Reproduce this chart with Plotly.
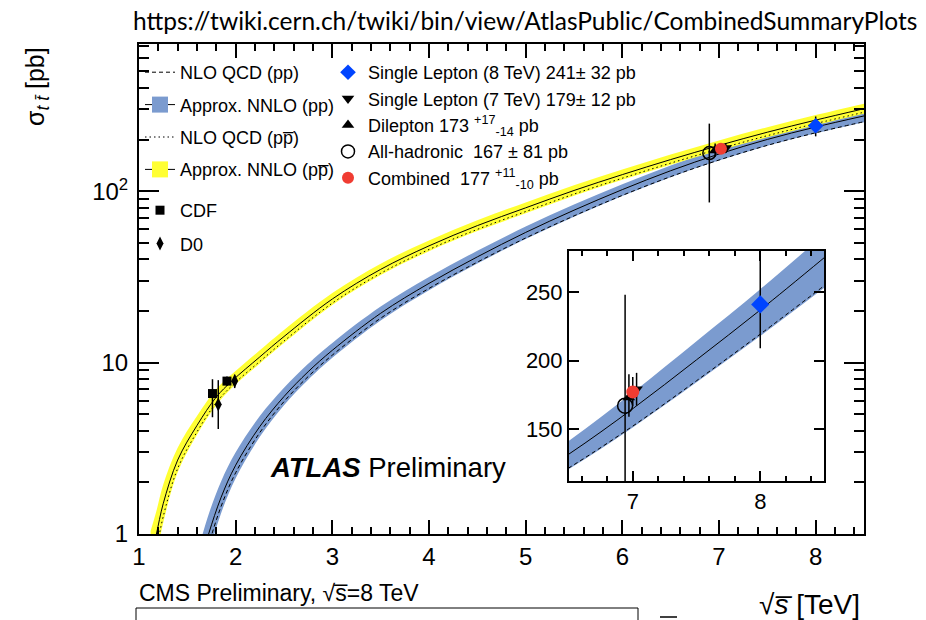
import plotly.graph_objects as go

# ---------------- data ----------------
# Approx. NNLO / NLO QCD for pp (LHC)
PP_SQRT_S = [1.62, 1.72, 1.85, 2.0, 2.25, 2.5, 2.75, 3.0, 3.5, 4.0, 4.5, 5.0, 5.5, 6.0, 6.5, 7.0, 7.5, 8.0, 8.5]
PP_NNLO = [0.63, 1.0, 1.64, 2.52, 4.24, 6.34, 8.85, 11.8, 19.4, 29.0, 41.4, 57.5, 77.5, 102.2, 131.7, 164.8, 200.5, 236.9, 275.0]
PP_NNLO_HI = [0.838, 1.30, 2.034, 2.999, 4.876, 7.133, 9.841, 13.03, 21.24, 31.61, 44.96, 62.22, 83.62, 109.97, 141.45, 176.67, 214.13, 252.06, 292.05]
PP_NNLO_LO = [0.4725, 0.77, 1.328, 2.117, 3.689, 5.643, 7.947, 10.67, 17.63, 26.45, 37.84, 52.61, 70.99, 93.72, 120.77, 151.12, 184.06, 217.95, 253.0]
PP_NLO = [0.536, 0.862, 1.453, 2.278, 3.909, 5.922, 8.29, 11.065, 18.16, 27.09, 38.55, 53.34, 71.77, 94.57, 121.64, 152.08, 185.21, 219.28, 254.54]

# Approx. NNLO / NLO QCD for p-pbar
PPBAR_SQRT_S = [1.12, 1.18, 1.25, 1.4, 1.6, 1.8, 1.96, 2.25, 2.5, 3.0, 3.5, 4.0, 4.5, 5.0, 5.5, 6.0, 6.5, 7.0, 7.5, 8.0, 8.5]
PPBAR_NNLO = [0.72, 1.0, 1.5, 2.7, 4.3, 6.3, 7.8, 10.8, 14.2, 23.5, 35.0, 48.0, 63.0, 80.0, 101.0, 125.0, 153.0, 185.0, 221.0, 260.0, 303.0]
PPBAR_NNLO_HI = [1.04, 1.36, 1.94, 3.19, 4.88, 7.01, 8.55, 11.8, 15.5, 25.5, 37.8, 51.6, 67.7, 86.0, 108.4, 134.0, 163.9, 198.0, 236.5, 278.2, 324.2]
PPBAR_NNLO_LO = [0.50, 0.735, 1.16, 2.29, 3.79, 5.66, 7.12, 9.89, 13.0, 21.7, 32.4, 44.7, 58.6, 74.4, 94.1, 116.6, 142.8, 172.9, 206.5, 243.0, 283.2]
PPBAR_NLO = [0.57, 0.81, 1.26, 2.41, 3.94, 5.85, 7.32, 10.16, 13.36, 22.24, 33.2, 45.7, 59.9, 76.1, 96.2, 119.1, 145.9, 176.5, 210.9, 248.1, 289.1]

# Tevatron measurements
CDF_SQRT_S = [1.76, 1.91]
CDF_XSEC = [6.6, 7.8]
CDF_ERR_UP = [1.4, 0.5]
CDF_ERR_DN = [1.8, 0.5]
D0_SQRT_S = [1.82, 1.99]
D0_XSEC = [5.7, 7.8]
D0_ERR_UP = [2.2, 0.7]
D0_ERR_DN = [1.6, 0.7]

# ATLAS measurements: SL 8 TeV, SL 7 TeV, dilepton, all-hadronic, combined
ATLAS_NAMES = [
    "Single Lepton (8 TeV) 241\u00b1 32 pb",
    "Single Lepton (7 TeV) 179\u00b1 12 pb",
    "Dilepton 173 <sup>+17</sup><sub>-14</sub> pb",
    "All-hadronic  167 \u00b1 81 pb",
    "Combined  177 <sup>+11</sup><sub>-10</sub> pb",
]
ATLAS_SQRT_S_MAIN = [8.0, 7.07, 6.96, 6.90, 7.02]
ATLAS_SQRT_S_INSET = [8.0, 7.03, 6.97, 6.94, 7.0]
ATLAS_XSEC = [241, 179, 173, 167, 177]
ATLAS_ERR_UP = [32, 12, 17, 81, 11]
ATLAS_ERR_DN = [32, 12, 14, 81, 10]

X_TICKS = [1, 2, 3, 4, 5, 6, 7, 8]
Y_TICKS = [1, 10, 100]
Y_TICK_TEXT = ["1", "10", "10<sup>2</sup>"]
Y_MINOR = [2, 3, 4, 5, 6, 7, 8, 9, 20, 30, 40, 50, 60, 70, 80, 90, 200, 300, 400, 500, 600, 700]
INSET_X_TICKS = [7, 8]
INSET_Y_TICKS = [150, 200, 250]

# ---------------- styles ----------------
FONT = "Liberation Sans, Arial, Helvetica, sans-serif"
BLUE_BAND = "#7b9bcf"
YELLOW_BAND = "#ffff33"
BLUE_PT = "#0044ff"
RED_PT = "#f03c32"

fig = go.Figure()


def add_band(xa, ya, x, lo, hi, band_color, group):
    fig.add_trace(go.Scatter(x=x, y=lo, mode="lines", line=dict(width=0, shape="spline"),
                             showlegend=False, hoverinfo="skip", xaxis=xa, yaxis=ya,
                             legendgroup=group))
    fig.add_trace(go.Scatter(x=x, y=hi, mode="lines", line=dict(width=0, shape="spline"),
                             fill="tonexty", fillcolor=band_color, showlegend=False,
                             hoverinfo="skip", xaxis=xa, yaxis=ya, legendgroup=group))


# main-plot bands
add_band("x", "y", PP_SQRT_S, PP_NNLO_LO, PP_NNLO_HI, BLUE_BAND, "ppnnlo")
add_band("x", "y", PPBAR_SQRT_S, PPBAR_NNLO_LO, PPBAR_NNLO_HI, YELLOW_BAND, "ppbarnnlo")

# central lines / NLO lines (main)
fig.add_trace(go.Scatter(x=PP_SQRT_S, y=PP_NNLO, mode="lines", line=dict(color="black", width=1, shape="spline"),
                         showlegend=False, legendgroup="ppnnlo", hoverinfo="skip"))
fig.add_trace(go.Scatter(x=PP_SQRT_S, y=PP_NLO, mode="lines", name="NLO QCD (pp)",
                         line=dict(color="black", width=1, dash="4px,3px", shape="spline"),
                         legendgroup="ppnlo", legendrank=1, legend="legend"))
fig.add_trace(go.Scatter(x=PPBAR_SQRT_S, y=PPBAR_NNLO, mode="lines", line=dict(color="black", width=1, shape="spline"),
                         showlegend=False, legendgroup="ppbarnnlo", hoverinfo="skip"))
fig.add_trace(go.Scatter(x=PPBAR_SQRT_S, y=PPBAR_NLO, mode="lines", name="NLO QCD (pp\u0305)",
                         line=dict(color="black", width=1, dash="1.5px,3px", shape="spline"),
                         legendgroup="ppbarnlo", legendrank=3, legend="legend"))

# legend samples for the NNLO bands
fig.add_trace(go.Scatter(x=[None], y=[None], mode="lines+markers", name="Approx. NNLO (pp)",
                         line=dict(color="black", width=1),
                         marker=dict(symbol="square", size=16, color=BLUE_BAND),
                         legendgroup="ppnnlo", legendrank=2, legend="legend"))
fig.add_trace(go.Scatter(x=[None], y=[None], mode="lines+markers", name="Approx. NNLO (pp\u0305)",
                         line=dict(color="black", width=1),
                         marker=dict(symbol="square", size=16, color=YELLOW_BAND),
                         legendgroup="ppbarnnlo", legendrank=4, legend="legend"))

# Tevatron points
fig.add_trace(go.Scatter(x=CDF_SQRT_S, y=CDF_XSEC, mode="markers", name="CDF",
                         marker=dict(symbol="square", size=9, color="black"),
                         error_y=dict(type="data", symmetric=False, array=CDF_ERR_UP, arrayminus=CDF_ERR_DN,
                                      color="black", thickness=1.5, width=0),
                         legend="legend3", legendgroup="cdf"))
fig.add_trace(go.Scatter(x=D0_SQRT_S, y=D0_XSEC, mode="markers", name="D0",
                         marker=dict(symbol="diamond-tall", size=10, color="black"),
                         error_y=dict(type="data", symmetric=False, array=D0_ERR_UP, arrayminus=D0_ERR_DN,
                                      color="black", thickness=1.5, width=0),
                         legend="legend3", legendgroup="d0"))

ATLAS_MARKERS = [
    dict(symbol="diamond", size=12, color=BLUE_PT),
    dict(symbol="triangle-down", size=11, color="black"),
    dict(symbol="triangle-up", size=11, color="black"),
    dict(symbol="circle-open", size=13, color="black", line=dict(width=1.5, color="black")),
    dict(symbol="circle", size=12, color=RED_PT),
]
draw_order = [3, 2, 1, 4, 0]

for i in draw_order:
    fig.add_trace(go.Scatter(x=[ATLAS_SQRT_S_MAIN[i]], y=[ATLAS_XSEC[i]], mode="markers", name=ATLAS_NAMES[i],
                             marker=ATLAS_MARKERS[i],
                             error_y=dict(type="data", symmetric=False, array=[ATLAS_ERR_UP[i]],
                                          arrayminus=[ATLAS_ERR_DN[i]], color="black", thickness=1.5, width=0),
                             legend="legend2", legendrank=i + 1, legendgroup="atlas%d" % i))

# ---------------- inset ----------------
add_band("x2", "y2", PP_SQRT_S, PP_NNLO_LO, PP_NNLO_HI, BLUE_BAND, "ppnnlo")
fig.add_trace(go.Scatter(x=PP_SQRT_S, y=PP_NNLO, mode="lines", line=dict(color="black", width=1, shape="spline"),
                         showlegend=False, xaxis="x2", yaxis="y2", hoverinfo="skip"))
fig.add_trace(go.Scatter(x=PP_SQRT_S, y=PP_NLO, mode="lines",
                         line=dict(color="black", width=1, dash="4px,3px", shape="spline"),
                         showlegend=False, xaxis="x2", yaxis="y2", hoverinfo="skip"))
inset_markers = [dict(m) for m in ATLAS_MARKERS]
inset_markers[0]["size"] = 14
inset_markers[4]["size"] = 13
inset_markers[3]["size"] = 15
for i in draw_order:
    fig.add_trace(go.Scatter(x=[ATLAS_SQRT_S_INSET[i]], y=[ATLAS_XSEC[i]], mode="markers",
                             marker=inset_markers[i], showlegend=False, xaxis="x2", yaxis="y2",
                             error_y=dict(type="data", symmetric=False, array=[ATLAS_ERR_UP[i]],
                                          arrayminus=[ATLAS_ERR_DN[i]], color="black", thickness=1.5, width=0)))

# ---------------- layout ----------------
L, R, T, B = 139, 62, 44, 86
W, H = 926, 620
PW, PH = W - L - R, H - T - B


def px(xp):
    return (xp - L) / PW


def py(yp):
    return (H - B - yp) / PH


axis_common = dict(showline=True, linecolor="black", linewidth=2, mirror="ticks", ticks="inside",
                   tickcolor="black", tickwidth=1.5, showgrid=False, zeroline=False,
                   tickfont=dict(family=FONT, size=24, color="black"))
inset_font = dict(family=FONT, size=22, color="black")

fig.update_layout(
    width=W, height=H,
    margin=dict(l=L, r=R, t=T, b=B),
    paper_bgcolor="white", plot_bgcolor="white",
    font=dict(family=FONT, color="black"),
    xaxis=dict(range=[1, 8.5], tickvals=X_TICKS, ticklen=14,
               minor=dict(dtick=0.2, tick0=1, ticklen=7, tickwidth=1.5, tickcolor="black", ticks="inside"),
               **axis_common),
    yaxis=dict(type="log", range=[0, 2.859], tickvals=Y_TICKS, ticktext=Y_TICK_TEXT, ticklen=20,
               ticklabelstandoff=4,
               minor=dict(tickmode="array", tickvals=Y_MINOR, ticklen=10, tickwidth=1.5, tickcolor="black",
                          ticks="inside"),
               **axis_common),
    xaxis2=dict(domain=[px(569), px(824)], anchor="y2", range=[6.5, 8.5], tickvals=INSET_X_TICKS, ticklen=10,
                minor=dict(dtick=0.2, tick0=7, ticklen=5, tickwidth=1.5, tickcolor="black", ticks="inside"),
                **{**axis_common, "tickfont": inset_font}),
    yaxis2=dict(domain=[py(481), py(251)], anchor="x2", range=[112, 280], tickvals=INSET_Y_TICKS, ticklen=10,
                **{**axis_common, "tickfont": inset_font}),
    legend=dict(x=px(140), xanchor="left", y=py(54), yanchor="top", bgcolor="rgba(0,0,0,0)",
                font=dict(family=FONT, size=18, color="black"), traceorder="grouped", tracegroupgap=6),
    legend3=dict(x=px(140), xanchor="left", y=py(192), yanchor="top", bgcolor="rgba(0,0,0,0)",
                 font=dict(family=FONT, size=18, color="black"), traceorder="grouped", tracegroupgap=7),
    legend2=dict(x=px(328), xanchor="left", y=py(54), yanchor="top", bgcolor="rgba(0,0,0,0)",
                 font=dict(family=FONT, size=18, color="black"), traceorder="grouped", tracegroupgap=0),
    showlegend=True,
)

fig.add_annotation(text="https://twiki.cern.ch/twiki/bin/view/AtlasPublic/CombinedSummaryPlots",
                   x=px(525), y=py(20), xref="paper", yref="paper", xanchor="center", yanchor="middle",
                   showarrow=False, font=dict(family="Lato, Open Sans, sans-serif", size=24.5, color="black"))
fig.add_annotation(text="<b><i>ATLAS</i></b> Preliminary",
                   x=px(268), y=py(468), xref="paper", yref="paper", xanchor="left", yanchor="middle",
                   showarrow=False, font=dict(family=FONT, size=27.5, color="black"))
fig.add_annotation(text="\u03c3<sub><i>t t\u0304</i></sub> [pb]", textangle=-90,
                   x=px(37), y=py(87), xref="paper", yref="paper", xanchor="center", yanchor="middle",
                   showarrow=False, font=dict(family=FONT, size=25, color="black"))
fig.add_annotation(text="\u221a<i>s\u0305</i> [TeV]",
                   x=px(862), y=py(604), xref="paper", yref="paper", xanchor="right", yanchor="middle",
                   showarrow=False, font=dict(family=FONT, size=28, color="black"))
fig.add_annotation(text="CMS Preliminary, \u221as\u0305=8 TeV",
                   x=px(137), y=py(593), xref="paper", yref="paper", xanchor="left", yanchor="middle",
                   showarrow=False, font=dict(family=FONT, size=23, color="black"))
fig.add_shape(type="rect", xref="paper", yref="paper", x0=px(136), x1=px(638), y0=py(608), y1=py(640),
              line=dict(color="black", width=1))
fig.add_shape(type="line", xref="paper", yref="paper", x0=px(660), x1=px(677), y0=py(617), y1=py(617),
              line=dict(color="black", width=1.5))

fig.write_html("out.html")
